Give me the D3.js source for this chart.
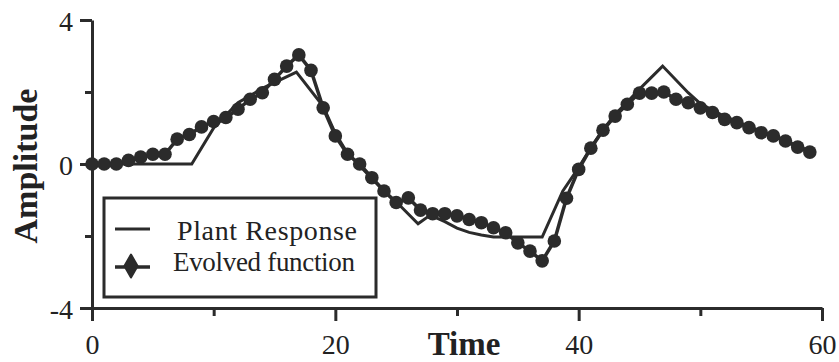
<!DOCTYPE html>
<html>
<head>
<meta charset="utf-8">
<script src="https://cdn.jsdelivr.net/npm/d3@7"></script>
<style>
    body { margin: 0; background: #ffffff; }
    svg { display: block; }
    text { font-family: "Liberation Serif", "Times New Roman", serif; fill: #222; }
</style>
</head>
<body>
<div id="chart-container"></div>
<script>
/*
    Plant response vs evolved function
 */

// evolved function, one value per time step 0..59
var evolved_time = d3.range(0, 60);
var evolved_values = [
    0, 0, 0, 0.1, 0.19, 0.27, 0.27, 0.69, 0.82, 1.03,
    1.18, 1.29, 1.52, 1.8, 1.98, 2.35, 2.72, 3.03, 2.6, 1.56,
    0.78, 0.27, 0.0, -0.38, -0.75, -1.07, -0.94, -1.28, -1.38, -1.38,
    -1.44, -1.54, -1.63, -1.77, -1.91, -2.19, -2.42, -2.69, -2.14, -0.95,
    -0.15, 0.44, 0.94, 1.33, 1.66, 1.97, 1.97, 2.0, 1.8, 1.7,
    1.56, 1.43, 1.24, 1.15, 1.01, 0.87, 0.78, 0.64, 0.47, 0.33
];

// plant response, corner points of the polyline
var plant_time = [0, 8.2, 10, 12, 14, 16.8, 19, 20, 21, 22, 23, 24, 25, 26.8, 27.8,
    29, 30, 31, 32, 33, 37, 38.7, 40, 41, 42, 43, 44, 45, 46.9, 49, 50, 52, 54, 56, 58, 59];
var plant_values = [0, 0, 1.0, 1.7, 2.1, 2.55, 1.6, 0.85, 0.3, -0.05, -0.4, -0.75, -1.05, -1.66, -1.42,
    -1.6, -1.78, -1.9, -1.97, -2.03, -2.03, -0.75, -0.1, 0.45, 0.95, 1.38, 1.72, 2.08, 2.72, 1.98, 1.68, 1.32, 1.04, 0.78, 0.5, 0.36];

var x_major_ticks = [0, 20, 40, 60];
var x_minor_ticks = [10, 30, 50];
var y_major_ticks = [-4, 0, 4];
var y_minor_ticks = [-2, 2];

var legend_labels = ["Plant Response", "Evolved function"];

var svg_size = {
    'width': 839,
    'height': 362
};

var ink = '#2b2b2b';

var svg = d3.select("#chart-container")
    .append("svg")
    .attr('width', svg_size.width)
    .attr('height', svg_size.height);

var x_scale = d3.scaleLinear()
    .domain([0, 60])
    .range([92, 822]);

var y_scale = d3.scaleLinear()
    .domain([-4, 4])
    .range([308, 20]);

// plain hyphen for negatives, like the original
var plain_format = function(d){ return String(d); };

// axes
var x_axis_group = svg.append('g')
    .attr('transform', 'translate(0,' + y_scale(-4) + ')')
    .call(d3.axisBottom(x_scale).tickValues(x_major_ticks).tickSize(13).tickSizeOuter(0)
        .tickPadding(13).tickFormat(plain_format));

svg.append('g')
    .attr('transform', 'translate(0,' + y_scale(-4) + ')')
    .call(d3.axisBottom(x_scale).tickValues(x_minor_ticks).tickSize(8).tickSizeOuter(0).tickFormat(''))
    .select('.domain').remove();

var y_axis_group = svg.append('g')
    .attr('transform', 'translate(' + x_scale(0) + ',0)')
    .call(d3.axisLeft(y_scale).tickValues(y_major_ticks).tickSize(12).tickSizeOuter(0)
        .tickPadding(7).tickFormat(plain_format));

svg.append('g')
    .attr('transform', 'translate(' + x_scale(0) + ',0)')
    .call(d3.axisLeft(y_scale).tickValues(y_minor_ticks).tickSize(7).tickSizeOuter(0).tickFormat(''))
    .select('.domain').remove();

svg.selectAll('.domain, .tick line')
    .style('stroke', ink)
    .style('stroke-width', 3);

svg.selectAll('.tick text')
    .style('font-family', '"Liberation Serif", "Times New Roman", serif')
    .style('font-size', '28px')
    .style('fill', '#222');

y_axis_group.selectAll('.tick text')
    .attr('dy', '0.36em');

// axis titles
svg.append('text')
    .attr('x', 464)
    .attr('y', 355)
    .attr('text-anchor', 'middle')
    .style('font-size', '33px')
    .style('font-weight', 'bold')
    .text('Time');

svg.append('text')
    .attr('transform', 'translate(37,166) rotate(-90)')
    .attr('text-anchor', 'middle')
    .style('font-size', '34px')
    .style('font-weight', 'bold')
    .text('Amplitude');

// plant response line
var plant_points = plant_time.map(function(t, i){
    return [t, plant_values[i]];
});

var line = d3.line()
    .x(function(d){ return x_scale(d[0]); })
    .y(function(d){ return y_scale(d[1]); });

svg.append('path')
    .datum(plant_points)
    .attr('d', line)
    .style('fill', 'none')
    .style('stroke', ink)
    .style('stroke-width', 3)
    .style('stroke-linejoin', 'miter');

// evolved function line + markers
var evolved_points = evolved_time.map(function(t, i){
    return [t, evolved_values[i]];
});

svg.append('path')
    .datum(evolved_points)
    .attr('d', line)
    .style('fill', 'none')
    .style('stroke', ink)
    .style('stroke-width', 3.5);

svg.append('g')
    .selectAll('circle')
    .data(evolved_points)
    .enter()
    .append('circle')
    .attr('cx', function(d){ return x_scale(d[0]); })
    .attr('cy', function(d){ return y_scale(d[1]); })
    .attr('r', 6.8)
    .style('fill', ink);

// legend
var legend = svg.append('g');

legend.append('rect')
    .attr('x', 104)
    .attr('y', 198)
    .attr('width', 272)
    .attr('height', 99)
    .style('fill', 'white')
    .style('stroke', ink)
    .style('stroke-width', 3);

legend.append('line')
    .attr('x1', 115).attr('x2', 150)
    .attr('y1', 229).attr('y2', 229)
    .style('stroke', ink)
    .style('stroke-width', 3);

legend.append('line')
    .attr('x1', 115).attr('x2', 150)
    .attr('y1', 267).attr('y2', 267)
    .style('stroke', ink)
    .style('stroke-width', 3.5);

legend.append('path')
    .attr('transform', 'translate(131,266)')
    .attr('d', d3.symbol().type(d3.symbolDiamond).size(150)())
    .style('fill', ink)
    .style('stroke', ink)
    .style('stroke-width', 2)
    .style('stroke-linejoin', 'round');

legend.append('text')
    .attr('x', 177)
    .attr('y', 240)
    .attr('textLength', 180)
    .style('font-size', '28px')
    .text(legend_labels[0]);

legend.append('text')
    .attr('x', 173)
    .attr('y', 271)
    .attr('textLength', 182)
    .style('font-size', '27px')
    .text(legend_labels[1]);
</script>
</body>
</html>
